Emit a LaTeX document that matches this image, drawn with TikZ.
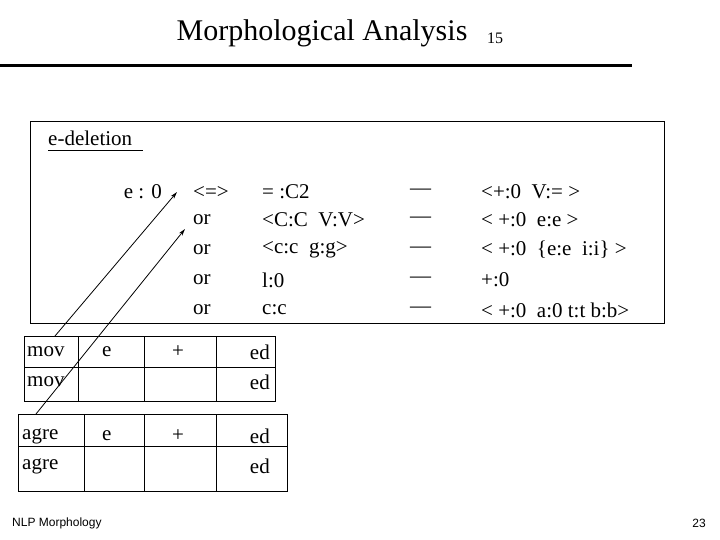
\documentclass[tikz,border=0pt]{standalone}
\usepackage{fontspec}
\setmainfont{Liberation Serif}
\newfontfamily\sansf{Liberation Sans}
\usetikzlibrary{arrows.meta}
\begin{document}
\begin{tikzpicture}[x=1pt,y=-1pt,
  txt/.style={inner sep=0pt,anchor=west,font=\fontsize{21}{21}\selectfont},
  cell/.style={draw,line width=0.8pt},
  arr/.style={-{Stealth[length=7pt,width=4pt]},line width=0.8pt}]
\useasboundingbox (0,0) rectangle (720,540);
\node[inner sep=0pt,font=\fontsize{30}{30}\selectfont] (title) at (322,33) {Morphological Analysis};
\node[inner sep=0pt,anchor=west,font=\fontsize{16}{16}\selectfont] (pg) at (487,38) {15};
\draw[line width=3pt] (0,66) -- (632,66);
\draw[line width=0.8pt] (30,121) rectangle (664,323);
\node[txt] (ed) at (48,138) {e-deletion};
\draw[line width=0.8pt] (48,150) -- (143,150);
\node[txt,anchor=east] (e0) at (162,192) {e : 0};
\foreach \y/\t [count=\i] in {192/{<=>},220/or,250/or,280/or,310/or}
  \node[txt] (o\i) at (193,\y) {\t};
\foreach \y/\t [count=\i] in {192/{= :C2},220/{<C:C\ \ V:V>},250/{<c:c\ \ g:g>},280/{l:0},310/{c:c}}
  \node[txt] (c\i) at (262,\y) {\t};
\foreach \y [count=\i] in {192,220,250,280,310}
  \node[txt] (d\i) at (410,\y) {---};
\foreach \y/\t [count=\i] in {192/{<+:0\ \ V:= >},220/{< +:0\ \ e:e >},250/{< +:0\ \ \{e:e\ \ i:i\} >},280/{+:0},310/{< +:0\ \ a:0 t:t b:b>}}
  \node[txt] (r\i) at (481,\y) {\t};
% table 1
\draw[cell] (24,336) rectangle (275,401);
\draw[cell] (24,367) -- (275,367);
\foreach \x in {78,144,216} \draw[cell] (\x,336) -- (\x,401);
\node[txt] (m1) at (27,352) {mov};
\node[txt] (m2) at (27,382) {mov};
\node[txt] (e1) at (102,352) {e};
\node[txt] (p1) at (172,352) {+};
\node[txt,anchor=east] (ed1) at (270,352) {ed};
\node[txt,anchor=east] (ed2) at (270,382) {ed};
% table 2
\draw[cell] (18,414) rectangle (287,491);
\draw[cell] (18,446) -- (287,446);
\foreach \x in {84,144,216} \draw[cell] (\x,414) -- (\x,491);
\node[txt] (a1) at (22,436) {agre};
\node[txt] (a2) at (22,466) {agre};
\node[txt] (e2) at (102,436) {e};
\node[txt] (p2) at (172,436) {+};
\node[txt,anchor=east] (ed3) at (270,436) {ed};
\node[txt,anchor=east] (ed4) at (270,466) {ed};
% arrows
\coordinate (s1) at (55,336); \coordinate (t1) at (177,192);
\coordinate (s2) at (36,414); \coordinate (t2) at (185,229);
\draw[arr] (s1) -- (t1);
\draw[arr] (s2) -- (t2);
\node[inner sep=0pt,anchor=west,font=\sansf\fontsize{12}{12}\selectfont] (ft) at (12,523) {NLP Morphology};
\node[inner sep=0pt,anchor=east,font=\sansf\fontsize{12}{12}\selectfont] (pn) at (706,523) {23};
\end{tikzpicture}
\end{document}
